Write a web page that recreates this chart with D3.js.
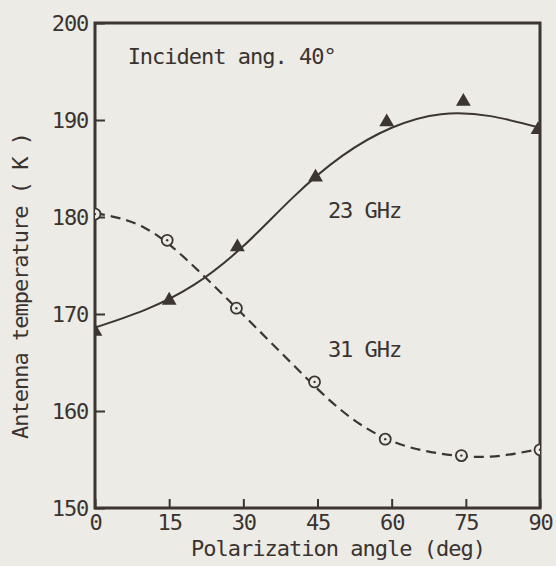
<!DOCTYPE html>
<html>
<head>
<meta charset="utf-8">
<script src="https://cdn.jsdelivr.net/npm/d3@7"></script>
<style>
  body { margin: 0; background: #ecebe6; }
  svg { display: block; }
  text { font-family: "DejaVu Sans Mono", monospace; fill: #3a3330; }
</style>
</head>
<body>
<svg id="chart"></svg>
<script>
// measured points (triangles = 23 GHz, circles = 31 GHz)
const triAngles = [0, 15, 28.8, 44.6, 59, 74.5, 89.6];
const ghz23 = [168.2, 171.4, 176.9, 184.1, 189.8, 191.9, 189.0];
const circAngles = [0, 14.6, 28.6, 44.4, 58.7, 74.1, 90];
const ghz31 = [180.3, 177.6, 170.6, 163.0, 157.1, 155.4, 156.0];

// fitted curves
const fitAngles = [0, 10, 20, 30, 40, 50, 60, 70, 80, 90];
const fit23 = [168.6, 170.4, 173.0, 177.0, 182.0, 186.3, 189.2, 190.6, 190.4, 189.2];
const fit31 = [180.4, 178.9, 174.9, 169.9, 164.8, 160.0, 156.9, 155.6, 155.3, 156.1];

// axis ticks
const xTicks = [0, 15, 30, 45, 60, 75, 90];
const yTicks = [150, 160, 170, 180, 190, 200];

const width = 556, height = 566;
const ink = "#3d3531";

const svg = d3.select("#chart").attr("width", width).attr("height", height);

const x = d3.scaleLinear().domain([0, 90]).range([95, 540]);
const y = d3.scaleLinear().domain([150, 200]).range([508, 23]);

svg.append("defs").append("clipPath").attr("id", "plotClip")
  .append("rect")
  .attr("x", x(0)).attr("y", y(200))
  .attr("width", x(90) - x(0)).attr("height", y(150) - y(200));

// axes with inward ticks
const xAxis = svg.append("g")
  .attr("transform", `translate(0, ${y(150)})`)
  .call(d3.axisBottom(x).tickValues(xTicks).tickSizeInner(-9).tickSizeOuter(0).tickPadding(6));
const yAxis = svg.append("g")
  .attr("transform", `translate(${x(0)}, 0)`)
  .call(d3.axisLeft(y).tickValues(yTicks).tickSizeInner(-10).tickSizeOuter(0).tickPadding(7));

[xAxis, yAxis].forEach(g => {
  g.select(".domain").remove();
  g.selectAll(".tick line").attr("stroke", ink).attr("stroke-width", 2);
  g.selectAll(".tick text")
    .attr("fill", "#3a3330")
    .style("font-size", "22px")
    .style("letter-spacing", "-1.2px")
    .style("font-family", "DejaVu Sans Mono, monospace");
});

// frame
svg.append("rect")
  .attr("x", x(0)).attr("y", y(200))
  .attr("width", x(90) - x(0)).attr("height", y(150) - y(200))
  .attr("fill", "none").attr("stroke", ink).attr("stroke-width", 3);

const plot = svg.append("g").attr("clip-path", "url(#plotClip)");

const line = d3.line()
  .x((d, i) => x(fitAngles[i]))
  .y(d => y(d))
  .curve(d3.curveNatural);

plot.append("path")
  .attr("d", line(fit23))
  .attr("fill", "none").attr("stroke", ink).attr("stroke-width", 2);

plot.append("path")
  .attr("d", line(fit31))
  .attr("fill", "none").attr("stroke", ink).attr("stroke-width", 2.2)
  .attr("stroke-dasharray", "10,6");

// triangles
plot.selectAll(".tri")
  .data(ghz23)
  .join("path")
  .attr("class", "tri")
  .attr("d", d3.symbol(d3.symbolTriangle, 95))
  .attr("transform", (d, i) => `translate(${x(triAngles[i])}, ${y(d)})`)
  .attr("fill", ink);

// open circles with centre dot
const circ = plot.selectAll(".circ")
  .data(ghz31)
  .join("g")
  .attr("class", "circ")
  .attr("transform", (d, i) => `translate(${x(circAngles[i])}, ${y(d)})`);
circ.append("circle").attr("r", 5.5)
  .attr("fill", "#ecebe6").attr("stroke", ink).attr("stroke-width", 1.8);
circ.append("circle").attr("r", 1.2).attr("fill", ink);

// annotations
const labelStyle = sel => sel.style("font-size", "22px").style("letter-spacing", "-1px");

svg.append("text")
  .attr("x", x(6.6)).attr("y", y(195.8))
  .text("Incident ang. 40°").call(labelStyle);
svg.append("text")
  .attr("x", x(47.1)).attr("y", y(179.9))
  .text("23 GHz").call(labelStyle);
svg.append("text")
  .attr("x", x(47.1)).attr("y", y(165.6))
  .text("31 GHz").call(labelStyle);

// axis titles
svg.append("text")
  .attr("x", 338).attr("y", 556)
  .attr("text-anchor", "middle")
  .text("Polarization angle (deg)").call(labelStyle);
svg.append("text")
  .attr("transform", "translate(28, 286) rotate(-90)")
  .attr("text-anchor", "middle")
  .text("Antenna temperature ( K )").call(labelStyle);
</script>
</body>
</html>
